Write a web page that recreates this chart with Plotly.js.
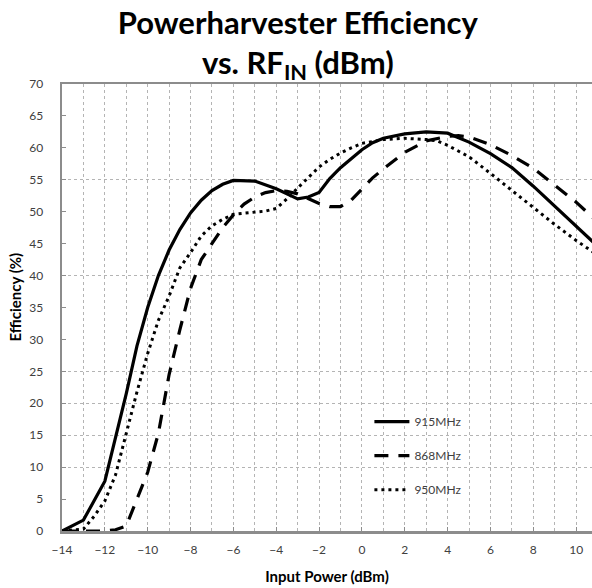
<!DOCTYPE html>
<html><head><meta charset="utf-8">
<script src="https://cdn.plot.ly/plotly-3.0.1.min.js"></script>
<style>html,body{margin:0;padding:0;background:#fff}#chart{width:592px;height:588px}</style>
</head><body><div id="chart"></div>
<script>
const seriesNames = ["915MHz", "868MHz", "950MHz"];

const x915 = [-14,-13,-12,-11.5,-11,-10.5,-10,-9.5,-9,-8.5,-8,-7.5,-7,-6.5,-6,-5,-4,-3,-2.5,-2,-1.5,-1,-0.5,0,0.5,1,2,3,4,5,6,7,8,9,10,11];
const y915 = [0,1.7,7.8,14.5,21.5,29,35,40,44,47.2,49.8,51.8,53.3,54.3,54.9,54.8,53.6,52,52.3,53,55.2,56.9,58.3,59.7,60.8,61.5,62.2,62.5,62.3,60.9,59.1,56.9,54,50.9,47.7,44.6];

const x868 = [-14,-13,-12,-11.5,-11,-10.5,-10,-9.5,-9,-8.5,-8,-7.5,-7,-6.5,-6,-5.5,-5,-4.5,-4,-3.5,-3,-2.5,-2,-1.5,-1,-0.5,0,0.5,1,2,3,4,4.5,5,6,7,8,9,10,11];
const y868 = [0,0,0,0.2,0.8,5,9.2,15.3,24.5,31.5,38,42.5,45,47.5,49.5,51.2,52.3,53,53.3,53.2,52.8,52,51.3,50.8,50.8,51.8,53.5,55.3,56.7,59.3,61.1,61.8,61.9,61.7,60.5,58.8,56.8,54.2,51.5,48.4];

const x950 = [-14,-13,-12.5,-12,-11.5,-11,-10.5,-10,-9.5,-9,-8.5,-8,-7.5,-7,-6.5,-6,-5.5,-5,-4.5,-4,-3.5,-3,-2.5,-2,-1.5,-1,-0.5,0,1,2,3,3.5,4,5,6,7,8,9,10,11];
const y950 = [0,0.3,2.3,4.7,8.8,15.3,21.8,27.8,33,36.8,41.2,43.6,46.2,47.8,48.8,49.6,49.8,49.9,50.1,50.5,52,53.7,55.3,57,58.2,59.2,60,60.7,61.3,61.5,61.3,61.1,60.4,58.6,56,53.3,50.6,48,45.5,43.2];

const yGridVals = [10, 15, 20, 25, 40, 55];

const FONT = 'Lato, "Open Sans", sans-serif';
const AXIS_GRAY = '#8c8c8c';
const GRID_GRAY = '#b4b4b4';

const traces = [
  {x: x915, y: y915, name: seriesNames[0], legendgroup: 'a', mode: 'lines',
   line: {color: '#000', width: 3.2}},
  {x: x868, y: y868, name: seriesNames[1], legendgroup: 'b', mode: 'lines',
   line: {color: '#000', width: 3.2, dash: '14px,10px'}},
  {x: x950, y: y950, name: seriesNames[2], legendgroup: 'c', mode: 'lines',
   line: {color: '#000', width: 3, dash: '3px,4px'}}
];

const layout = {
  width: 592, height: 588,
  margin: {l: 62, r: 0, t: 84, b: 57},
  paper_bgcolor: '#fff', plot_bgcolor: '#fff',
  font: {family: FONT, color: '#404040', size: 12},
  title: {
    text: 'Powerharvester Efficiency<br>vs. RF<sub>IN</sub> (dBm)',
    font: {family: FONT, size: 31, color: '#000', weight: 700},
    x: 0.503, xref: 'container', xanchor: 'center',
    y: 0.943, yref: 'container', yanchor: 'middle'
  },
  showlegend: true,
  legend: {
    x: 0.58, xanchor: 'left', y: 0.277, yanchor: 'top',
    bgcolor: 'rgba(0,0,0,0)', borderwidth: 0,
    font: {family: FONT, size: 12, color: '#404040'},
    itemwidth: 35, tracegroupgap: 15, traceorder: 'grouped'
  },
  xaxis: {
    range: [-14, 10.74], dtick: 2, tick0: -14,
    showline: true, linecolor: AXIS_GRAY, linewidth: 2.5, mirror: false,
    ticks: 'inside', ticklen: 4, tickcolor: AXIS_GRAY, tickwidth: 1,
    showgrid: true, gridcolor: GRID_GRAY, griddash: 'dot', gridwidth: 1,
    minor: {dtick: 1, showgrid: true, gridcolor: GRID_GRAY, griddash: 'dot', gridwidth: 1},
    zeroline: false, ticklabelstandoff: 6,
    tickfont: {family: FONT, size: 12, color: '#404040'},
    title: {text: 'Input Power (dBm)', font: {family: FONT, size: 15, color: '#000', weight: 700}, standoff: 16}
  },
  xaxis2: {
    overlaying: 'x', anchor: 'y', side: 'top', range: [-14, 10.74],
    showline: true, linecolor: AXIS_GRAY, linewidth: 2.5,
    showticklabels: false, ticks: '', showgrid: false, zeroline: false
  },
  yaxis: {
    range: [0, 70], dtick: 5, tick0: 0,
    showline: true, linecolor: AXIS_GRAY, linewidth: 2.5,
    ticks: 'inside', ticklen: 4, tickcolor: AXIS_GRAY, tickwidth: 1,
    showgrid: false, zeroline: false, ticklabelstandoff: 14,
    tickfont: {family: FONT, size: 12, color: '#404040'}
  },
  yaxis2: {
    overlaying: 'y', anchor: 'x', range: [0, 70],
    tickmode: 'array', tickvals: yGridVals,
    showgrid: true, gridcolor: GRID_GRAY, griddash: 'dot', gridwidth: 1,
    showticklabels: false, ticks: '', showline: false, zeroline: false
  },
  annotations: [{
    text: 'Efficiency (%)', xref: 'paper', yref: 'paper', textangle: -90,
    x: (14.5 - 62) / 530, y: (531 - 297) / 447, xanchor: 'center', yanchor: 'middle', showarrow: false,
    font: {family: FONT, size: 15, color: '#000', weight: 700}
  }]
};

// invisible helper traces so the overlay axes (top border, sparse gridlines) are drawn
traces.push({x: [-14], y: [0], xaxis: 'x2', yaxis: 'y', mode: 'none', showlegend: false, hoverinfo: 'skip'});
traces.push({x: [-14], y: [0], xaxis: 'x', yaxis: 'y2', mode: 'none', showlegend: false, hoverinfo: 'skip'});

Plotly.newPlot('chart', traces, layout, {displayModeBar: false, staticPlot: true});
</script>
</body></html>
